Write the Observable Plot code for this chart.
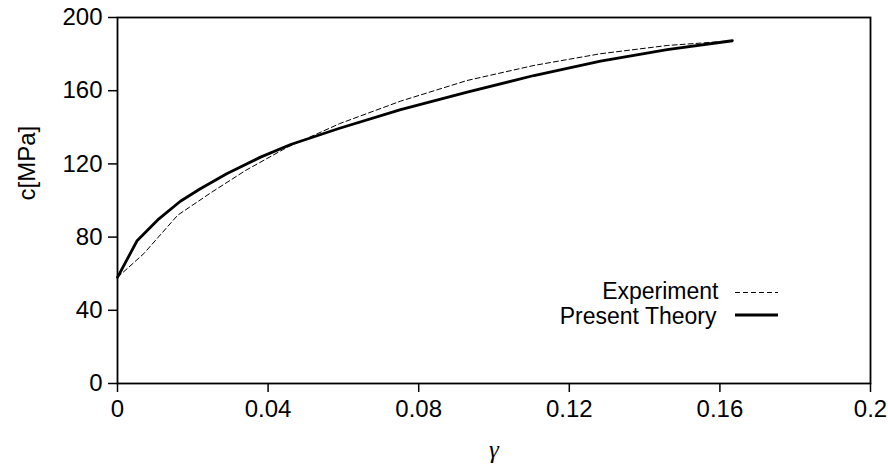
<!DOCTYPE html>
<html>
<head>
<meta charset="utf-8">
<script src="https://cdn.jsdelivr.net/npm/d3@7"></script>
<script src="https://cdn.jsdelivr.net/npm/@observablehq/plot@0.6"></script>
<style>
  html, body { margin: 0; padding: 0; background: #fff; }
  #chart svg { display: block; }
</style>
</head>
<body>
<div id="chart"></div>
<script>
// Data
const experimentGamma = [0, 0.007, 0.016, 0.025, 0.034, 0.045, 0.059, 0.0752, 0.0929, 0.1106, 0.1283, 0.146, 0.1548, 0.163];
const experimentC     = [58, 71, 92, 104.5, 116.4, 129, 142, 154.3, 165.6, 173.8, 180.2, 184.7, 186, 187.3];
const theoryGamma = [0, 0.0052, 0.011, 0.0167, 0.022, 0.029, 0.038, 0.046, 0.059, 0.0752, 0.0929, 0.1106, 0.1283, 0.146, 0.1633];
const theoryC     = [58, 78, 90, 99.6, 106.4, 114.6, 123.7, 130.6, 139.5, 149.7, 159.2, 168.3, 176.1, 182.5, 187.3];
const xTicks = [0, 0.04, 0.08, 0.12, 0.16, 0.2];
const xTickLabels = ["0", "0.04", "0.08", "0.12", "0.16", "0.2"];
const yTicks = [0, 40, 80, 120, 160, 200];
const seriesNames = ["Experiment", "Present Theory"];
const xLabel = "γ";
const yLabel = "c[MPa]";

const experiment = experimentGamma.map((g, i) => ({g, c: experimentC[i]}));
const theory = theoryGamma.map((g, i) => ({g, c: theoryC[i]}));

const font = "'Liberation Sans', Arial, Helvetica, sans-serif";

function legendLines(index, scales, values, dim) {
  const right = dim.width - dim.marginRight;
  const bottom = dim.height - dim.marginBottom;
  const g = d3.create("svg:g");
  g.append("line")
    .attr("x1", right - 135).attr("x2", right - 92)
    .attr("y1", bottom - 90.5).attr("y2", bottom - 90.5)
    .attr("stroke", "#000").attr("stroke-width", 1).attr("stroke-dasharray", "5,3");
  g.append("line")
    .attr("x1", right - 135).attr("x2", right - 92)
    .attr("y1", bottom - 68).attr("y2", bottom - 68)
    .attr("stroke", "#000").attr("stroke-width", 2.8);
  return g.node();
}

const chart = Plot.plot({
  width: 888,
  height: 465,
  marginLeft: 117,
  marginRight: 18,
  marginTop: 17,
  marginBottom: 82,
  style: {fontFamily: font, fontSize: "24px", background: "#fff", color: "#000"},
  x: {domain: [0, 0.2]},
  y: {domain: [0, 200]},
  marks: [
    Plot.axisX({ticks: xTicks, tickFormat: (d) => xTickLabels[xTicks.indexOf(d)], tickSize: 9, tickPadding: 7, strokeWidth: 1.5, fontSize: 24, label: null}),
    Plot.axisY({ticks: yTicks, tickSize: 9, tickPadding: 6, strokeWidth: 1.5, fontSize: 24, label: null}),
    Plot.frame({stroke: "#000", strokeWidth: 1.8}),
    Plot.line(experiment, {x: "g", y: "c", stroke: "#000", strokeWidth: 1, strokeDasharray: "5,3"}),
    Plot.line(theory, {x: "g", y: "c", stroke: "#000", strokeWidth: 2.8, strokeLinejoin: "round"}),
    Plot.text([seriesNames[0]], {frameAnchor: "bottom-right", dx: -152, dy: -91.5, text: (d) => d, textAnchor: "end", lineAnchor: "middle", fontSize: 23, fill: "#000"}),
    Plot.text([seriesNames[1]], {frameAnchor: "bottom-right", dx: -154, dy: -66.5, text: (d) => d, textAnchor: "end", lineAnchor: "middle", fontSize: 23, fill: "#000"}),
    legendLines,
    Plot.text([xLabel], {frameAnchor: "bottom", dy: 66, text: (d) => d, lineAnchor: "middle", fontSize: 25, fontStyle: "italic", fontFamily: "'Liberation Serif', 'DejaVu Serif', serif", fill: "#000"}),
    Plot.text([yLabel], {frameAnchor: "left", dx: -90, rotate: -90, text: (d) => d, lineAnchor: "middle", fontSize: 24, fill: "#000"})
  ]
});
document.getElementById("chart").appendChild(chart);
</script>
</body>
</html>
